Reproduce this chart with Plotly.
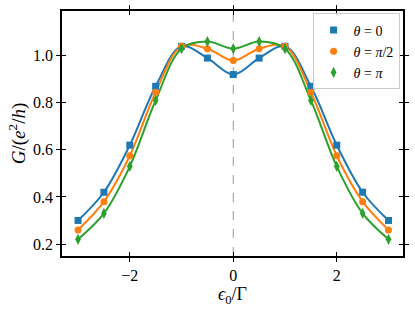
import plotly.graph_objects as go

eps = [-3, -2.5, -2, -1.5, -1, -0.5, 0, 0.5, 1, 1.5, 2, 2.5, 3]
g_theta0 = [0.30, 0.42, 0.62, 0.87, 1.04, 0.99, 0.92, 0.99, 1.04, 0.87, 0.62, 0.42, 0.30]
g_theta_pi2 = [0.26, 0.38, 0.575, 0.845, 1.04, 1.03, 0.98, 1.03, 1.04, 0.845, 0.575, 0.38, 0.26]
g_theta_pi = [0.22, 0.33, 0.53, 0.81, 1.03, 1.06, 1.03, 1.06, 1.03, 0.81, 0.53, 0.33, 0.22]

series = [
    ("<i>θ</i> = 0", g_theta0, "#1f77b4", "square", 7),
    ("<i>θ</i> = <i>π</i>/2", g_theta_pi2, "#ff7f0e", "circle", 7),
    ("<i>θ</i> = <i>π</i>", g_theta_pi, "#2ca02c", "diamond-tall", 8),
]

FONT = "Liberation Serif"
fig = go.Figure()
for name, ys, col, sym, sz in series:
    fig.add_trace(go.Scatter(x=eps, y=ys, mode="lines", line=dict(color=col, width=2, shape="spline", smoothing=1.0),
                             showlegend=False, hoverinfo="skip"))
for name, ys, col, sym, sz in series:
    fig.add_trace(go.Scatter(x=eps, y=ys, mode="markers", name=name,
                             marker=dict(color=col, symbol=sym, size=sz, line=dict(width=0))))

fig.add_shape(type="line", x0=0, x1=0, y0=0, y1=1, yref="paper", xref="x",
              line=dict(color="#999999", width=1, dash="dash"), layer="below")

XR = [-3.31, 3.28]
YR = [0.149, 1.19]
common = dict(showgrid=False, zeroline=False, tickcolor="black", tickwidth=1, ticklen=4, automargin=False)
fig.update_layout(
    width=415, height=312,
    margin=dict(l=62, r=12, t=11, b=56),
    plot_bgcolor="white", paper_bgcolor="white",
    font=dict(family=FONT, size=16, color="black"),
    xaxis=dict(range=XR, tickvals=[-2, 0, 2], ticktext=["−2", "0", "2"], ticks="outside",
               mirror="ticks", showline=True, linecolor="black", linewidth=1.5,
               title=dict(text="<i>ϵ</i><sub>0</sub>/Γ", standoff=1, font=dict(size=18)), **common),
    yaxis=dict(range=YR, tickvals=[0.2, 0.4, 0.6, 0.8, 1.0], ticktext=["0.2", "0.4", "0.6", "0.8", "1.0"],
               ticks="outside", mirror="ticks", showline=True, linecolor="black", linewidth=1.5,
               title=dict(text="<i>G</i>/(<i>e</i><sup>2</sup>/<i>h</i>)", standoff=2, font=dict(size=19)), **common),
    xaxis2=dict(range=XR, overlaying="x", tickvals=[-2, 0, 2], showticklabels=False, ticks="inside",
                mirror="ticks", showline=False, **common),
    yaxis2=dict(range=YR, overlaying="y", tickvals=[0.2, 0.4, 0.6, 0.8, 1.0], showticklabels=False, ticks="inside",
                mirror="ticks", showline=False, **common),
    legend=dict(x=0.99, y=0.99, xanchor="right", yanchor="top", bgcolor="rgba(255,255,255,0.8)",
                bordercolor="#cccccc", borderwidth=1, font=dict(size=14), itemwidth=30,
                tracegroupgap=0),
)
fig.add_trace(go.Scatter(x=[None], y=[None], xaxis="x2", yaxis="y2", showlegend=False, hoverinfo="skip"))
fig.write_html("out.html", config={"displayModeBar": False},
               post_script="document.body.style.margin='0';")
